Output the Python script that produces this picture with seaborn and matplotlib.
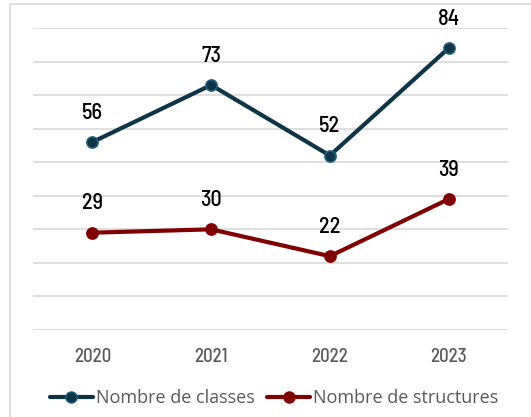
import matplotlib
matplotlib.use("Agg")
import matplotlib.pyplot as plt
import seaborn as sns
import pandas as pd
from matplotlib.patches import Rectangle
from matplotlib.lines import Line2D

years = ["2020", "2021", "2022", "2023"]
classes = [56, 73, 52, 84]
structures = [29, 30, 22, 39]
series_names = ["Nombre de classes", "Nombre de structures"]

sns.set_theme(style="white")
COND = ['Barlow Semi Condensed', 'DejaVu Sans']
plt.rcParams['font.family'] = COND

df = pd.DataFrame({
    "year": years * 2,
    "x": list(range(len(years))) * 2,
    "value": classes + structures,
    "series": [series_names[0]] * 4 + [series_names[1]] * 4,
})

colors = {series_names[0]: "#0E3547", series_names[1]: "#800000"}
edges = {series_names[0]: "#1F5F80", series_names[1]: "#800000"}

fig = plt.figure(figsize=(5.31, 4.17), dpi=100)
ax = fig.add_axes([33/531, 1-330/417, 475/531, (330-28)/417])

for name in series_names:
    sub = df[df.series == name]
    sns.lineplot(data=sub, x="x", y="value", ax=ax, color=colors[name],
                 linewidth=3, marker="o", markersize=8,
                 markerfacecolor=colors[name], markeredgecolor=edges[name],
                 markeredgewidth=1.2, legend=False)
    for xi, v in zip(sub.x, sub.value):
        ax.annotate(str(v), (xi, v), xytext=(0, 14), textcoords="offset points",
                    ha="center", va="bottom", fontsize=16, color="black",
                    family=COND, fontweight="medium")

ax.set_xlim(-0.5, 3.5)
ax.set_ylim(0, 90)
ax.set_yticks(range(0, 91, 10))
ax.set_yticklabels([])
ax.set_xticks(range(len(years)))
ax.set_xticklabels(years, fontsize=13.5, color="#595959", family=COND, fontweight="medium")
ax.tick_params(axis="x", length=0, pad=13)
ax.tick_params(axis="y", length=0)
ax.grid(axis="y", color="#D9D9D9", linewidth=1.2)
ax.set_axisbelow(True)
for s in ax.spines.values():
    s.set_visible(False)
ax.set_xlabel("")
ax.set_ylabel("")

handles = [Line2D([0], [0], color=colors[n], linewidth=3, marker="o", markersize=8,
                  markerfacecolor=colors[n], markeredgecolor=edges[n]) for n in series_names]
leg = fig.legend(handles, series_names, loc="center", bbox_to_anchor=(274/531, 1-398/417),
                 ncol=2, frameon=False, handlelength=2.4, handletextpad=0.15,
                 columnspacing=0.7, prop={'family': ['Open Sans', 'DejaVu Sans'], 'size': 13})
for t in leg.get_texts():
    t.set_color("#595959")

fig.patches.append(Rectangle((10/531, -0.1), 1.0, 1 - 4/417 + 0.1, transform=fig.transFigure,
                             fill=False, edgecolor="#D9D9D9", linewidth=1.2))

fig.savefig("out.png", dpi=100)
